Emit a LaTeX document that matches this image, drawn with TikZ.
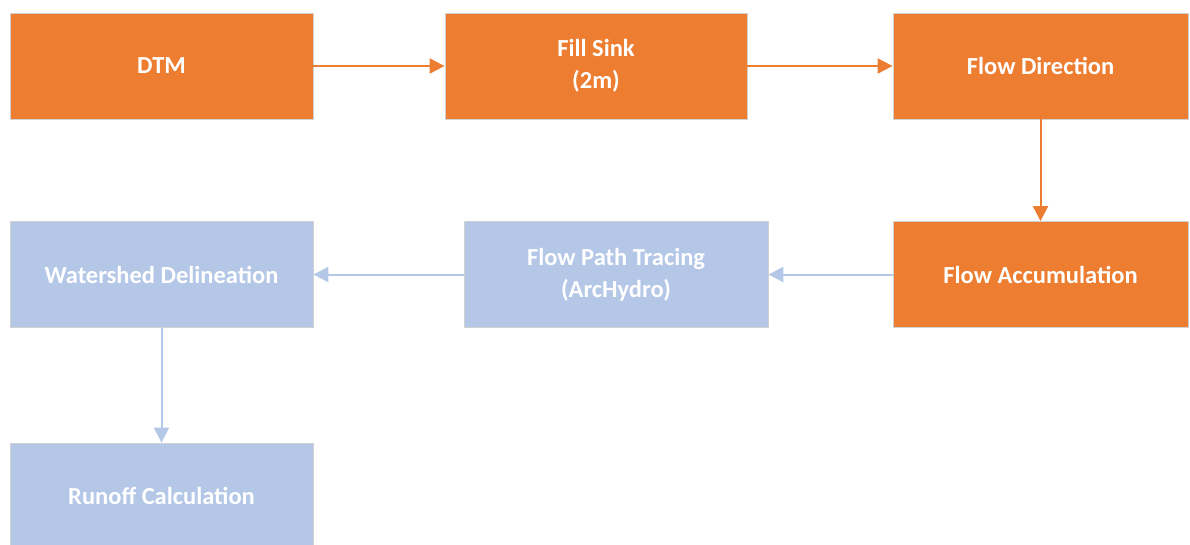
\documentclass[tikz,border=0pt]{standalone}
\usepackage{fontspec}
\setmainfont{Carlito}
\usetikzlibrary{arrows.meta}
\definecolor{stepOrange}{HTML}{ED7D31}
\definecolor{stepBlue}{HTML}{B4C7E7}
\begin{document}
\begin{tikzpicture}[x=1pt, y=-1pt,
    box/.style={draw=black!18, line width=.8pt, minimum width=303pt, minimum height=106pt,
        text=white, font=\fontsize{24.5}{32}\selectfont\bfseries, align=center, inner sep=0pt},
    orangebox/.style={box, fill=stepOrange},
    bluebox/.style={box, fill=stepBlue},
    orangearrow/.style={draw=stepOrange, line width=2pt, -{Triangle[length=15pt, width=15pt]}},
    bluearrow/.style={draw=stepBlue, line width=2pt, -{Triangle[length=15pt, width=15pt]}}]
        \useasboundingbox (0,0) rectangle (1190,544);
        \node[orangebox] (dtm) at (161.5,66) {DTM};
        \node[orangebox, minimum width=302pt] (fill) at (596,66) {Fill Sink\\(2m)};
        \node[orangebox, minimum width=295pt] (dir) at (1040.5,66) {Flow Direction};
        \node[orangebox, minimum width=295pt] (acc) at (1040.5,274.5) {Flow Accumulation};
        \node[bluebox, minimum width=304pt] (path) at (616,274.5) {Flow Path Tracing\\(ArcHydro)};
        \node[bluebox] (shed) at (161.5,274.5) {Watershed Delineation};
        \node[bluebox] (runoff) at (161.5,496) {Runoff Calculation};
        \draw[orangearrow] (dtm) -- (fill);
        \draw[orangearrow] (fill) -- (dir);
        \draw[orangearrow] (dir) -- (acc);
        \draw[bluearrow] (acc) -- (path);
        \draw[bluearrow] (path) -- (shed);
        \draw[bluearrow] (shed) -- (runoff);
    \end{tikzpicture}
\end{document}
